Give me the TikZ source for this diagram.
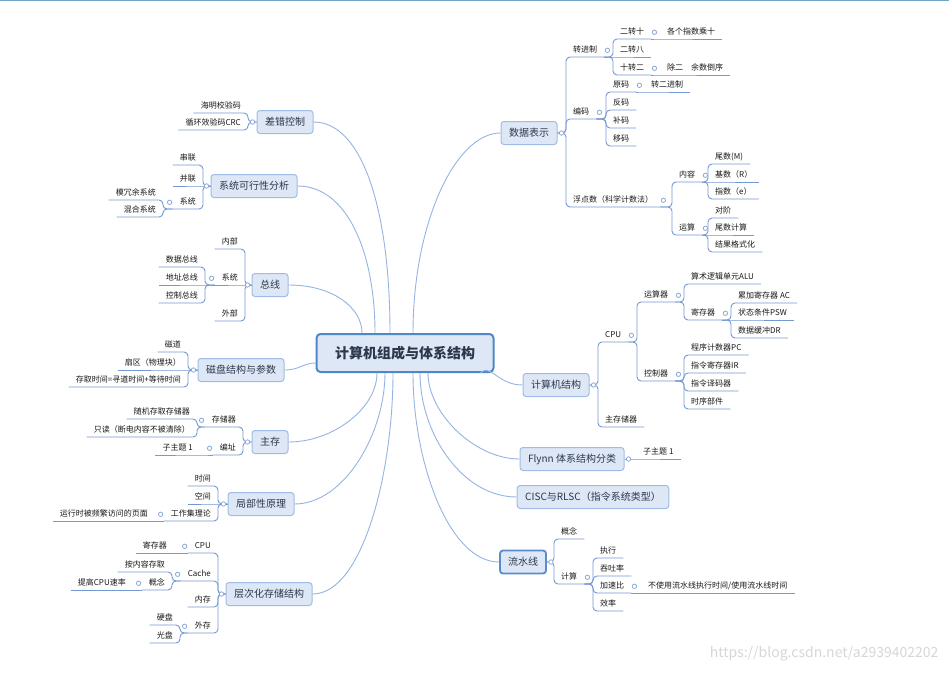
\documentclass[tikz,border=0pt]{standalone}
\usepackage{fontspec}
\setmainfont{Noto Sans CJK SC}
\usetikzlibrary{calc}
\definecolor{conncol}{RGB}{150,180,225}
\definecolor{brcol}{RGB}{115,152,210}
\definecolor{boxfill}{RGB}{221,231,246}
\definecolor{boxdraw}{RGB}{160,188,228}
\definecolor{rootdraw}{RGB}{80,135,200}
\definecolor{seldraw}{RGB}{90,140,205}
\definecolor{topictext}{RGB}{45,55,75}
\definecolor{leaftext}{RGB}{25,25,25}
\definecolor{dotcol}{RGB}{140,170,215}
\definecolor{wmcol}{RGB}{215,215,215}
\definecolor{topcol}{RGB}{110,165,200}
\newcommand\leaffont{\fontsize{8pt}{10pt}\selectfont}
\newcommand\topicfont{\fontsize{10pt}{12pt}\selectfont}
\newcommand\rootfont{\fontsize{14pt}{16pt}\selectfont\bfseries}
\newcommand\Rbr[2]{\draw[br] (#1) -| (#2.south west) -- (#2.south east);}
\newcommand\Lbr[2]{\draw[br] (#1) -| (#2.south east) -- (#2.south west);}
\newcommand\Rst[2]{\draw[br] (#1) -- (#2.south west) -- (#2.south east);}
\newcommand\Lst[2]{\draw[br] (#1) -- (#2.south east) -- (#2.south west);}
\newcommand\Dot[1]{\draw[dotc] (#1) circle (2.2pt);}
\begin{document}
\begin{tikzpicture}[x=1pt,y=-1pt,
  rl/.style={anchor=south west,font=\leaffont,text=leaftext,inner xsep=7pt,inner ysep=2.5pt,text height=6.5pt,text depth=1.5pt},
  ll/.style={rl,anchor=south east},
  topic/.style={draw=boxdraw,line width=1pt,fill=boxfill,rounded corners=3pt,font=\topicfont,text=topictext,inner xsep=8pt,minimum height=23pt},
  selbox/.style={draw=seldraw,line width=1.8pt},
  rootbox/.style={draw=rootdraw,line width=2pt,fill=boxfill,rounded corners=4pt,font=\rootfont,text=topictext,minimum width=177pt,minimum height=38pt},
  br/.style={draw=brcol,line width=0.9pt,rounded corners=4pt},
  conn/.style={draw=conncol,line width=0.9pt},
  dotc/.style={draw=dotcol,line width=0.8pt,fill=white}]
\useasboundingbox (0,0) rectangle (949,672);
\fill[white] (0,0) rectangle (949,672);
\draw[topcol,line width=1.4pt] (0,0.6) -- (949,0.6);

% ---------- root and topics ----------
\node[rootbox] (root) at (405,353) {计算机组成与体系结构};
\node[topic] (dr) at (529,133) {数据表示};
\node[topic] (jsj) at (556,385) {计算机结构};
\node[topic] (fl) at (572,459) {Flynn 体系结构分类};
\node[topic] (cisc) at (593,497) {CISC与RLSC（指令系统类型）};
\node[topic,selbox] (lsx) at (523,562) {流水线};
\node[topic] (cc) at (285,122) {差错控制};
\node[topic] (xt) at (254,186) {系统可行性分析};
\node[topic] (zx2) at (270,285) {总线};
\node[topic] (cp) at (241,370) {磁盘结构与参数};
\node[topic] (zc) at (270,442) {主存};
\node[topic] (jb) at (261,504) {局部性原理};
\node[topic] (cc2) at (269,594) {层次化存储结构};

% ---------- right leaves ----------
\node[rl] (zjz) at (566,57) {转进制};
\node[rl] (ezs) at (613,39) {二转十};
\node[rl] (gzs) at (660,39) {各个指数乘十};
\node[rl] (ezb) at (613,57) {二转八};
\node[rl] (sze) at (613,75) {十转二};
\node[rl] (cer) at (660,75) {除二\hspace{8pt}余数倒序};
\node[rl] (bm) at (566,119) {编码};
\node[rl] (ym) at (606,92) {原码};
\node[rl] (zej) at (644,92) {转二进制};
\node[rl] (fm) at (606,110) {反码};
\node[rl] (bum) at (606,128) {补码};
\node[rl] (yim) at (606,146) {移码};
\node[rl] (fds) at (566,207) {浮点数（科学计数法）};
\node[rl] (nr) at (672,182) {内容};
\node[rl] (wsm) at (708,164) {尾数(M)};
\node[rl] (jsr) at (708,182) {基数（R）};
\node[rl] (zse) at (708,199) {指数（e）};
\node[rl] (ysn) at (672,235) {运算};
\node[rl] (dj) at (708,218) {对阶};
\node[rl] (wsjs) at (708,235) {尾数计算};
\node[rl] (jggs) at (708,252) {结果格式化};

\node[rl] (cpu) at (598,342) {CPU};
\node[rl] (ysq) at (637,302) {运算器};
\node[rl] (alu) at (684,284) {算术逻辑单元ALU};
\node[rl] (jcq) at (684,320) {寄存器};
\node[rl] (ac) at (731,303) {累加寄存器 AC};
\node[rl] (psw) at (731,320) {状态条件PSW};
\node[rl] (dbr) at (731,338) {数据缓冲DR};
\node[rl] (kzq) at (637,381) {控制器};
\node[rl] (pc) at (684,355) {程序计数器PC};
\node[rl] (ir) at (684,373) {指令寄存器IR};
\node[rl] (ymq) at (684,391) {指令译码器};
\node[rl] (sxbj) at (684,409) {时序部件};
\node[rl] (zcc) at (598,427) {主存储器};

\node[rl] (zzt1) at (636,459) {子主题 1};

\node[rl] (gn) at (554,539) {概念};
\node[rl] (jis) at (554,584) {计算};
\node[rl] (zxg) at (593,558) {执行};
\node[rl] (ttl) at (593,576) {吞吐率};
\node[rl] (jsb) at (593,593) {加速比};
\node[rl] (bsy) at (641,593) {不使用流水线执行时间/使用流水线时间};
\node[rl] (xl) at (593,611) {效率};

% ---------- left leaves ----------
\node[ll] (hm) at (248,113) {海明校验码};
\node[ll] (crc) at (248,130) {循环效验码CRC};
\node[ll] (cl) at (203,165) {串联};
\node[ll] (bl) at (203,186) {并联};
\node[ll] (xtt) at (203,209) {系统};
\node[ll] (mry) at (163,200) {模冗余系统};
\node[ll] (hhxt) at (163,217) {混合系统};
\node[ll] (nb) at (245,249) {内部};
\node[ll] (xtz) at (245,285) {系统};
\node[ll] (sjzx) at (205,267) {数据总线};
\node[ll] (dzzx) at (205,285) {地址总线};
\node[ll] (kzzx) at (205,303) {控制总线};
\node[ll] (wb) at (245,321) {外部};
\node[ll] (cd) at (188,352) {磁道};
\node[ll] (sq) at (188,370) {扇区（物理块）};
\node[ll] (cqsj) at (188,387) {存取时间=寻道时间+等待时间};
\node[ll] (ccq) at (243,427) {存储器};
\node[ll] (sjcq) at (197,419) {随机存取存储器};
\node[ll] (zd) at (197,437) {只读（断电内容不被清除）};
\node[ll] (bz) at (243,455) {编址};
\node[ll] (zzt2) at (200,455) {子主题 1};
\node[ll] (sj) at (218,486) {时间};
\node[ll] (kj) at (218,504) {空间};
\node[ll] (gzj) at (218,521) {工作集理论};
\node[ll] (yx) at (155,521) {运行时被频繁访问的页面};
\node[ll] (cpul) at (218,553) {CPU};
\node[ll] (jcql) at (174,553) {寄存器};
\node[ll] (cache) at (218,581) {Cache};
\node[ll] (anr) at (172,572) {按内容存取};
\node[ll] (gnl) at (172,590) {概念};
\node[ll] (tg) at (133,590) {提高CPU速率};
\node[ll] (nc) at (218,607) {内存};
\node[ll] (wc) at (218,633) {外存};
\node[ll] (yp) at (180,625) {硬盘};
\node[ll] (gp) at (180,643) {光盘};

\node[anchor=east,font=\fontsize{14pt}{16pt}\selectfont,text=wmcol] (wmk) at (942,654) {https://blog.csdn.net/a2939402202};

% ---------- right brackets ----------
\Rbr{dr.east}{zjz} \Rbr{dr.east}{bm} \Rbr{dr.east}{fds}
\Rbr{zjz.south east}{ezs} \Rst{zjz.south east}{ezb} \Rbr{zjz.south east}{sze}
\Rst{ezs.south east}{gzs} \Rst{sze.south east}{cer}
\Rbr{bm.south east}{ym} \Rbr{bm.south east}{fm} \Rbr{bm.south east}{bum} \Rbr{bm.south east}{yim}
\Rst{ym.south east}{zej}
\Rbr{fds.south east}{nr} \Rbr{fds.south east}{ysn}
\Rbr{nr.south east}{wsm} \Rst{nr.south east}{jsr} \Rbr{nr.south east}{zse}
\Rbr{ysn.south east}{dj} \Rst{ysn.south east}{wsjs} \Rbr{ysn.south east}{jggs}

\Rbr{jsj.east}{cpu} \Rbr{jsj.east}{zcc}
\Rbr{cpu.south east}{ysq} \Rbr{cpu.south east}{kzq}
\Rbr{ysq.south east}{alu} \Rbr{ysq.south east}{jcq}
\Rbr{jcq.south east}{ac} \Rst{jcq.south east}{psw} \Rbr{jcq.south east}{dbr}
\Rbr{kzq.south east}{pc} \Rbr{kzq.south east}{ir} \Rbr{kzq.south east}{ymq} \Rbr{kzq.south east}{sxbj}

\Rst{fl.east}{zzt1}

\Rbr{lsx.east}{gn} \Rbr{lsx.east}{jis}
\Rbr{jis.south east}{zxg} \Rbr{jis.south east}{ttl} \Rbr{jis.south east}{jsb} \Rbr{jis.south east}{xl}
\Rst{jsb.south east}{bsy}

% ---------- left brackets ----------
\Lbr{cc.west}{hm} \Lbr{cc.west}{crc}
\Lbr{xt.west}{cl} \Lst{xt.west}{bl} \Lbr{xt.west}{xtt}
\Lbr{xtt.south west}{mry} \Lbr{xtt.south west}{hhxt}
\Lbr{zx2.west}{nb} \Lst{zx2.west}{xtz} \Lbr{zx2.west}{wb}
\Lbr{xtz.south west}{sjzx} \Lst{xtz.south west}{dzzx} \Lbr{xtz.south west}{kzzx}
\Lbr{cp.west}{cd} \Lst{cp.west}{sq} \Lbr{cp.west}{cqsj}
\Lbr{zc.west}{ccq} \Lbr{zc.west}{bz}
\Lbr{ccq.south west}{sjcq} \Lbr{ccq.south west}{zd}
\Lst{bz.south west}{zzt2}
\Lbr{jb.west}{sj} \Lst{jb.west}{kj} \Lbr{jb.west}{gzj}
\Lst{gzj.south west}{yx}
\Lbr{cc2.west}{cpul} \Lbr{cc2.west}{cache} \Lbr{cc2.west}{nc} \Lbr{cc2.west}{wc}
\Lst{cpul.south west}{jcql}
\Lbr{cache.south west}{anr} \Lbr{cache.south west}{gnl}
\Lst{gnl.south west}{tg}
\Lbr{wc.south west}{yp} \Lbr{wc.south west}{gp}

% ---------- main connectors ----------
\draw[conn] (dr.west) .. controls +(-45,0) and +(0,-110) .. ([xshift=8pt]root.north);
\draw[conn] (jsj.west) .. controls +(-25,0) and +(10,-10) .. ([xshift=-14pt]root.south east);
\draw[conn] (fl.west) .. controls +(-45,0) and +(0,40) .. ([xshift=23pt]root.south);
\draw[conn] (cisc.west) .. controls +(-55,0) and +(0,60) .. ([xshift=15pt]root.south);
\draw[conn] (lsx.west) .. controls +(-50,0) and +(0,90) .. ([xshift=8pt]root.south);
\draw[conn] (cc.east) .. controls +(50,0) and +(0,-120) .. ([xshift=-15pt]root.north);
\draw[conn] (xt.east) .. controls +(50,0) and +(0,-80) .. ([xshift=-30pt]root.north);
\draw[conn] (zx2.east) .. controls +(45,0) and +(0,-25) .. ([xshift=-43pt]root.north);
\draw[conn] (cp.east) .. controls +(15,0) and +(-12,0) .. ([yshift=-10pt]root.west);
\draw[conn] (zc.east) .. controls +(45,0) and +(0,35) .. ([xshift=-28pt]root.south);
\draw[conn] (jb.east) .. controls +(50,0) and +(0,60) .. ([xshift=-20pt]root.south);
\draw[conn] (cc2.east) .. controls +(50,0) and +(0,100) .. ([xshift=-12pt]root.south);

% ---------- collapse dots ----------
\Dot{[xshift=4pt]dr.east} \Dot{[xshift=4pt]jsj.east} \Dot{[xshift=4pt]fl.east} \Dot{[xshift=4pt]lsx.east}
\Dot{[xshift=3pt]zjz.east} \Dot{[xshift=3pt]ezs.east} \Dot{[xshift=3pt]sze.east}
\Dot{[xshift=3pt]bm.east} \Dot{[xshift=3pt]ym.east} \Dot{[xshift=3pt]fds.east}
\Dot{[xshift=3pt]nr.east} \Dot{[xshift=3pt]ysn.east}
\Dot{[xshift=3pt]cpu.east} \Dot{[xshift=3pt]ysq.east} \Dot{[xshift=3pt]jcq.east} \Dot{[xshift=3pt]kzq.east}
\Dot{[xshift=3pt]jis.east} \Dot{[xshift=3pt]jsb.east}
\Dot{[xshift=-4pt]cc.west} \Dot{[xshift=-4pt]xt.west} \Dot{[xshift=-4pt]zx2.west} \Dot{[xshift=-4pt]cp.west}
\Dot{[xshift=-4pt]zc.west} \Dot{[xshift=-4pt]jb.west} \Dot{[xshift=-4pt]cc2.west}
\Dot{[xshift=-3pt]xtt.west} \Dot{[xshift=-3pt]xtz.west} \Dot{[xshift=-3pt]ccq.west} \Dot{[xshift=-3pt]bz.west}
\Dot{[xshift=-3pt]gzj.west} \Dot{[xshift=-3pt]cpul.west} \Dot{[xshift=-3pt]cache.west} \Dot{[xshift=-3pt]gnl.west}
\Dot{[xshift=-3pt]wc.west}
\end{tikzpicture}
\end{document}
